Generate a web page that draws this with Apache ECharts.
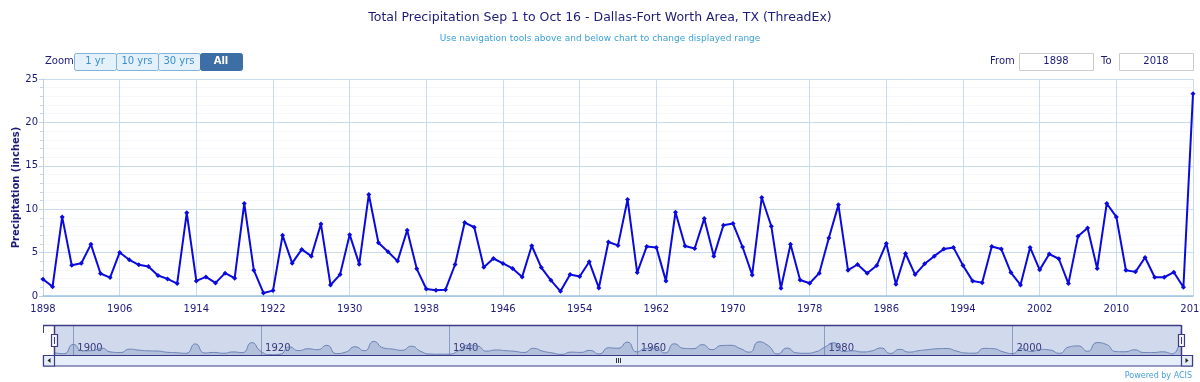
<!DOCTYPE html>
<html>
<head>
<meta charset="utf-8">
<script src="https://cdn.jsdelivr.net/npm/echarts@6/dist/echarts.min.js"></script>
<style>
html,body{margin:0;padding:0;background:#fff;}
#main{width:1200px;height:382px;}
</style>
</head>
<body>
<div id="main"></div>
<script>
const years = ['1898','1899','1900','1901','1902','1903','1904','1905','1906','1907','1908','1909','1910','1911','1912','1913','1914','1915','1916','1917','1918','1919','1920','1921','1922','1923','1924','1925','1926','1927','1928','1929','1930','1931','1932','1933','1934','1935','1936','1937','1938','1939','1940','1941','1942','1943','1944','1945','1946','1947','1948','1949','1950','1951','1952','1953','1954','1955','1956','1957','1958','1959','1960','1961','1962','1963','1964','1965','1966','1967','1968','1969','1970','1971','1972','1973','1974','1975','1976','1977','1978','1979','1980','1981','1982','1983','1984','1985','1986','1987','1988','1989','1990','1991','1992','1993','1994','1995','1996','1997','1998','1999','2000','2001','2002','2003','2004','2005','2006','2007','2008','2009','2010','2011','2012','2013','2014','2015','2016','2017','2018'];

const precip = [1.93,1.08,9.11,3.55,3.78,5.95,2.59,2.12,5.02,4.17,
3.59,3.40,2.36,1.97,1.43,9.58,1.74,2.20,1.51,2.63,
2.05,10.66,2.97,0.35,0.62,6.99,3.78,5.37,4.59,8.30,
1.27,2.47,7.07,3.67,11.70,6.14,5.10,4.02,7.57,3.13,
0.81,0.66,0.73,3.63,8.46,7.92,3.32,4.32,3.75,3.17,
2.20,5.79,3.28,1.81,0.54,2.47,2.24,3.94,0.93,6.22,
5.83,11.12,2.70,5.71,5.60,1.74,9.65,5.75,5.48,8.92,
4.59,8.15,8.34,5.64,2.43,11.35,8.03,0.89,5.95,1.85,
1.47,2.63,6.68,10.50,2.97,3.63,2.63,3.51,6.06,1.35,
4.90,2.47,3.71,4.59,5.41,5.60,3.51,1.74,1.54,5.71,
5.41,2.70,1.27,5.60,3.01,4.83,4.29,1.43,6.87,7.84,
3.17,10.66,9.11,2.97,2.78,4.44,2.16,2.16,2.74,1.00,
23.30];

const yTicks = [0,5,10,15,20,25];
const zoomButtons = ['1 yr','10 yrs','30 yrs','All'];
const fromYear = '1898';
const toYear = '2018';
const navLabelYears = ['1900','1920','1940','1960','1980','2000'];

const FONT = 'DejaVu Sans';
const NAVY = '#1c1c78';
const GRID = '#c8dcee';

const chart = echarts.init(document.getElementById('main'), null, {renderer:'canvas'});

const btnGraphics = [];
const btnX = [74,116,158,200];
zoomButtons.forEach((b,i)=>{
  const active = (b === 'All');
  btnGraphics.push({
    type:'rect', left:btnX[i], top:53, shape:{width:42,height:17,r:2},
    style:{fill: active ? '#3d6ea6' : '#e4f1fb', stroke: active ? '#3d6ea6' : '#7fb2dc', lineWidth:1}
  });
  btnGraphics.push({
    type:'text', x:btnX[i]+21, y:61.5,
    style:{text:b, fill: active ? '#ffffff' : '#3b8fcb', font:(active?'bold ':'')+'10px '+FONT, align:'center', verticalAlign:'middle'}
  });
});

const NAVC = '#3c3c86';
const graphics = btnGraphics.concat([
  {type:'text', x:45, y:61.5, style:{text:'Zoom', fill:NAVY, font:'10px '+FONT, verticalAlign:'middle'}},
  {type:'text', x:990, y:61.5, style:{text:'From', fill:NAVY, font:'10px '+FONT, verticalAlign:'middle'}},
  {type:'rect', left:1019, top:53, shape:{width:74,height:17}, style:{fill:'#fff', stroke:'#cccccc'}},
  {type:'text', x:1056, y:61.5, style:{text:fromYear, fill:NAVY, font:'10px '+FONT, align:'center', verticalAlign:'middle'}},
  {type:'text', x:1101, y:61.5, style:{text:'To', fill:NAVY, font:'10px '+FONT, verticalAlign:'middle'}},
  {type:'rect', left:1119, top:53, shape:{width:74,height:17}, style:{fill:'#fff', stroke:'#cccccc'}},
  {type:'text', x:1156, y:61.5, style:{text:toYear, fill:NAVY, font:'10px '+FONT, align:'center', verticalAlign:'middle'}},
  {type:'line', shape:{x1:43,y1:325.5,x2:1181,y2:325.5}, style:{stroke:NAVC,lineWidth:1.5}, z:10},
  {type:'line', shape:{x1:54.5,y1:325,x2:54.5,y2:366}, style:{stroke:NAVC,lineWidth:1.5}, z:10},
  {type:'line', shape:{x1:1181.5,y1:325,x2:1181.5,y2:366}, style:{stroke:NAVC,lineWidth:1.5}, z:10},
  {type:'line', shape:{x1:43.5,y1:325,x2:43.5,y2:333}, style:{stroke:NAVC,lineWidth:1}, z:10},
  {type:'rect', shape:{x:43.5,y:355.5,width:1149,height:10.5}, style:{fill:'#e5eef9', stroke:NAVC, lineWidth:1.2}, z:10},
  {type:'rect', shape:{x:43.5,y:355.5,width:11,height:10.5}, style:{fill:'#e5eef9', stroke:NAVC, lineWidth:1.2}, z:10},
  {type:'rect', shape:{x:1181.5,y:355.5,width:11,height:10.5}, style:{fill:'#e5eef9', stroke:NAVC, lineWidth:1.2}, z:10},
  {type:'polygon', shape:{points:[[50.5,358],[50.5,363],[47.5,360.5]]}, style:{fill:'#222'}, z:11},
  {type:'polygon', shape:{points:[[1185.5,358],[1185.5,363],[1188.5,360.5]]}, style:{fill:'#222'}, z:11},
  {type:'line', shape:{x1:616.5,y1:358,x2:616.5,y2:363}, style:{stroke:'#333',lineWidth:1}, z:11},
  {type:'line', shape:{x1:618.5,y1:358,x2:618.5,y2:363}, style:{stroke:'#333',lineWidth:1}, z:11},
  {type:'line', shape:{x1:620.5,y1:358,x2:620.5,y2:363}, style:{stroke:'#333',lineWidth:1}, z:11},
  {type:'rect', shape:{x:51.5,y:334.5,width:6,height:12}, style:{fill:'#f4f6fb', stroke:NAVC, lineWidth:1.2}, z:12},
  {type:'line', shape:{x1:54.5,y1:337,x2:54.5,y2:344}, style:{stroke:NAVC,lineWidth:1}, z:12},
  {type:'rect', shape:{x:1178.5,y:334.5,width:6,height:12}, style:{fill:'#f4f6fb', stroke:NAVC, lineWidth:1.2}, z:12},
  {type:'line', shape:{x1:1181.5,y1:337,x2:1181.5,y2:344}, style:{stroke:NAVC,lineWidth:1}, z:12},
  {type:'text', x:1192, y:376, style:{text:'Powered by ACIS', fill:'#4aa0d8', font:'8px '+FONT, align:'right', verticalAlign:'middle'}}
]);

const option = {
  animation:false,
  backgroundColor:'#ffffff',
  title:{
    text:'Total Precipitation Sep 1 to Oct 16 - Dallas-Fort Worth Area, TX (ThreadEx)',
    subtext:'Use navigation tools above and below chart to change displayed range',
    left:'center', top:6, itemGap:10,
    textStyle:{color:NAVY, fontFamily:FONT, fontSize:12.5, fontWeight:'normal'},
    subtextStyle:{color:'#3aa0d8', fontFamily:FONT, fontSize:9}
  },
  grid:[
    {left:43, right:7, top:79, height:217, containLabel:false, outerBoundsMode:'none'},
    {left:54.5, right:18.5, top:326, height:29, show:true, backgroundColor:'rgba(102,133,194,0.3)', borderWidth:0, outerBoundsMode:'none'}
  ],
  xAxis:[
    {
      type:'category', gridIndex:0, data:years, boundaryGap:false,
      axisLine:{show:true, lineStyle:{color:'#9fc4e3', width:1.5}},
      axisTick:{show:false},
      axisLabel:{interval:7, color:NAVY, fontFamily:FONT, fontSize:10, margin:8, showMaxLabel:true},
      splitLine:{show:true, interval:7, lineStyle:{color:GRID, width:1}}
    },
    {
      type:'category', gridIndex:1, data:years, boundaryGap:false,
      axisLine:{show:false}, axisTick:{show:false},
      axisLabel:{
        inside:true, interval:(idx,val)=>navLabelYears.indexOf(val)>=0,
        color:'#37377a', fontFamily:FONT, fontSize:10, align:'left', margin:2,
        padding:[0,0,0,4]
      },
      splitLine:{show:true, interval:(idx,val)=>navLabelYears.indexOf(val)>=0, lineStyle:{color:'#8c9cc4', width:1}}
    }
  ],
  yAxis:[
    {
      type:'value', gridIndex:0, min:yTicks[0], max:yTicks[yTicks.length-1], interval:5,
      name:'Precipitation (inches)', nameLocation:'middle', nameGap:22, nameRotate:90, nameMoveOverlap:false,
      nameTextStyle:{color:NAVY, fontFamily:FONT, fontSize:10, fontWeight:'bold'},
      axisLine:{show:true, lineStyle:{color:'#c0d2e4'}},
      axisTick:{show:true, length:4, lineStyle:{color:'#c0d2e4'}},
      minorTick:{show:true, splitNumber:5, length:3, lineStyle:{color:'#c8d6e6'}},
      axisLabel:{color:NAVY, fontFamily:FONT, fontSize:10, margin:5},
      splitLine:{show:true, lineStyle:{color:GRID}},
      minorSplitLine:{show:true, lineStyle:{color:'#f4f7fb'}}
    },
    {
      type:'value', gridIndex:1, min:0, max:25, show:false,
      splitLine:{show:false}
    }
  ],
  series:[
    {
      type:'line', xAxisIndex:0, yAxisIndex:0, data:precip,
      symbol:'diamond', symbolSize:5, showAllSymbol:true,
      lineStyle:{color:'#0a0adf', width:2},
      itemStyle:{color:'#0a0adf'},
      z:5
    },
    {
      type:'line', xAxisIndex:1, yAxisIndex:1, data:precip,
      smooth:0.6, symbol:'none',
      lineStyle:{color:'#6a80b4', width:1},
      areaStyle:{color:'rgba(88,110,170,0.35)'}
    }
  ],
  graphic:graphics
};
chart.setOption(option);
</script>
</body>
</html>
